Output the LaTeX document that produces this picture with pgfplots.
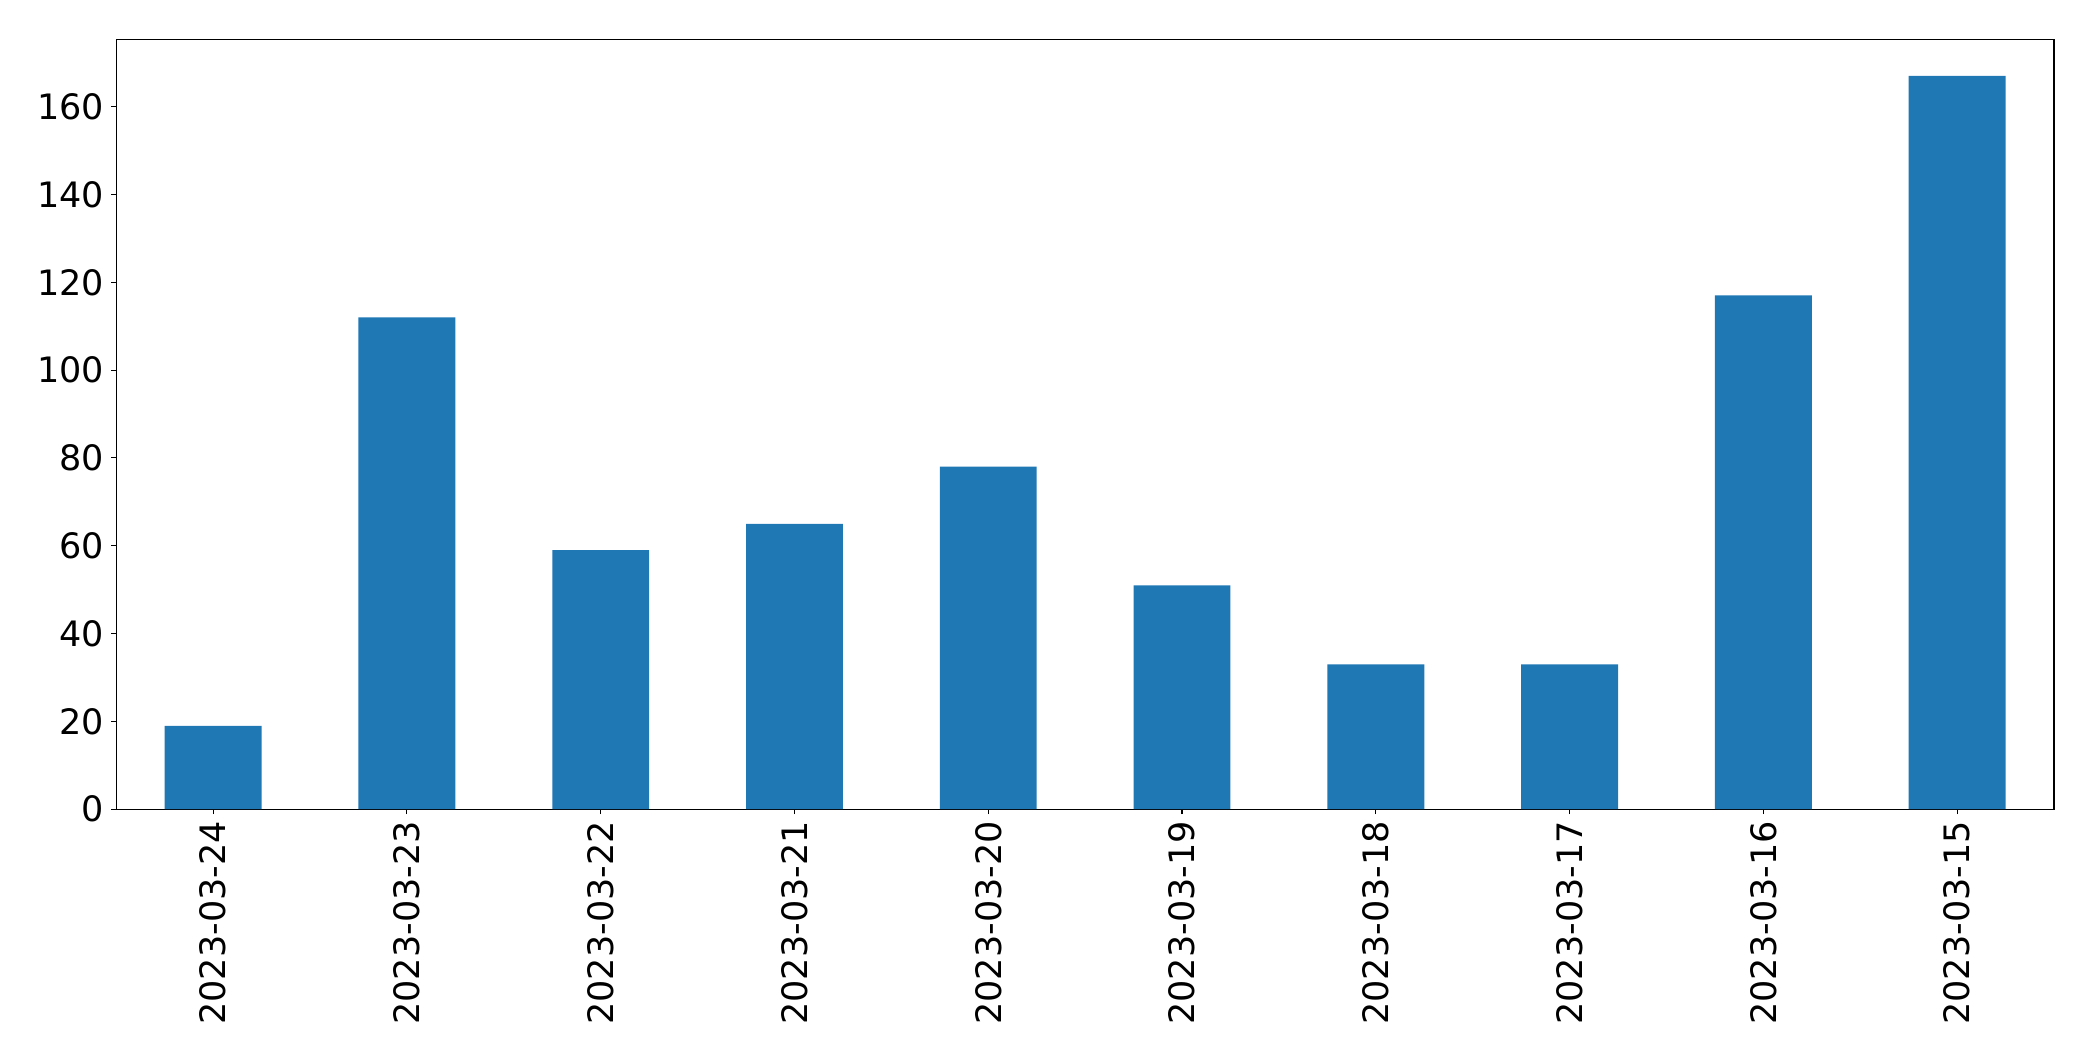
\documentclass[border=0pt]{standalone}
\usepackage{fontspec}
\setmainfont{DejaVu Sans}
\usepackage{pgfplots}
\pgfplotsset{compat=1.18}
\definecolor{barblue}{HTML}{1F77B4}
\begin{document}
\begin{tikzpicture}
\begin{axis}[
  at={(0,0)}, anchor=south west,
  scale only axis, width=969pt, height=385pt,
  xmin=-0.5, xmax=9.5, ymin=0, ymax=175.35,
  xtick={0,1,2,3,4,5,6,7,8,9},
  xticklabels={2023-03-24,2023-03-23,2023-03-22,2023-03-21,2023-03-20,2023-03-19,2023-03-18,2023-03-17,2023-03-16,2023-03-15},
  ytick={0,20,40,60,80,100,120,140,160},
  tick align=outside, major tick length=2.5pt,
  xtick pos=left, ytick pos=left,
  tick style={line width=0.55pt, black},
  axis line style={line width=0.55pt},
  ticklabel style={font=\fontsize{17.5}{21}\selectfont},
  /pgf/number format/assume math mode=true,
  xticklabel style={rotate=90, anchor=east},
]
\addplot[ybar, bar width=0.5, fill=barblue, draw=none] coordinates {
  (0,19) (1,112) (2,59) (3,65) (4,78) (5,51) (6,33) (7,33) (8,117) (9,167)};
\end{axis}
\pgfresetboundingbox
\path[use as bounding box] (-58.15pt,-125.85pt) rectangle (988.5pt,404.65pt);
\end{tikzpicture}
\end{document}
